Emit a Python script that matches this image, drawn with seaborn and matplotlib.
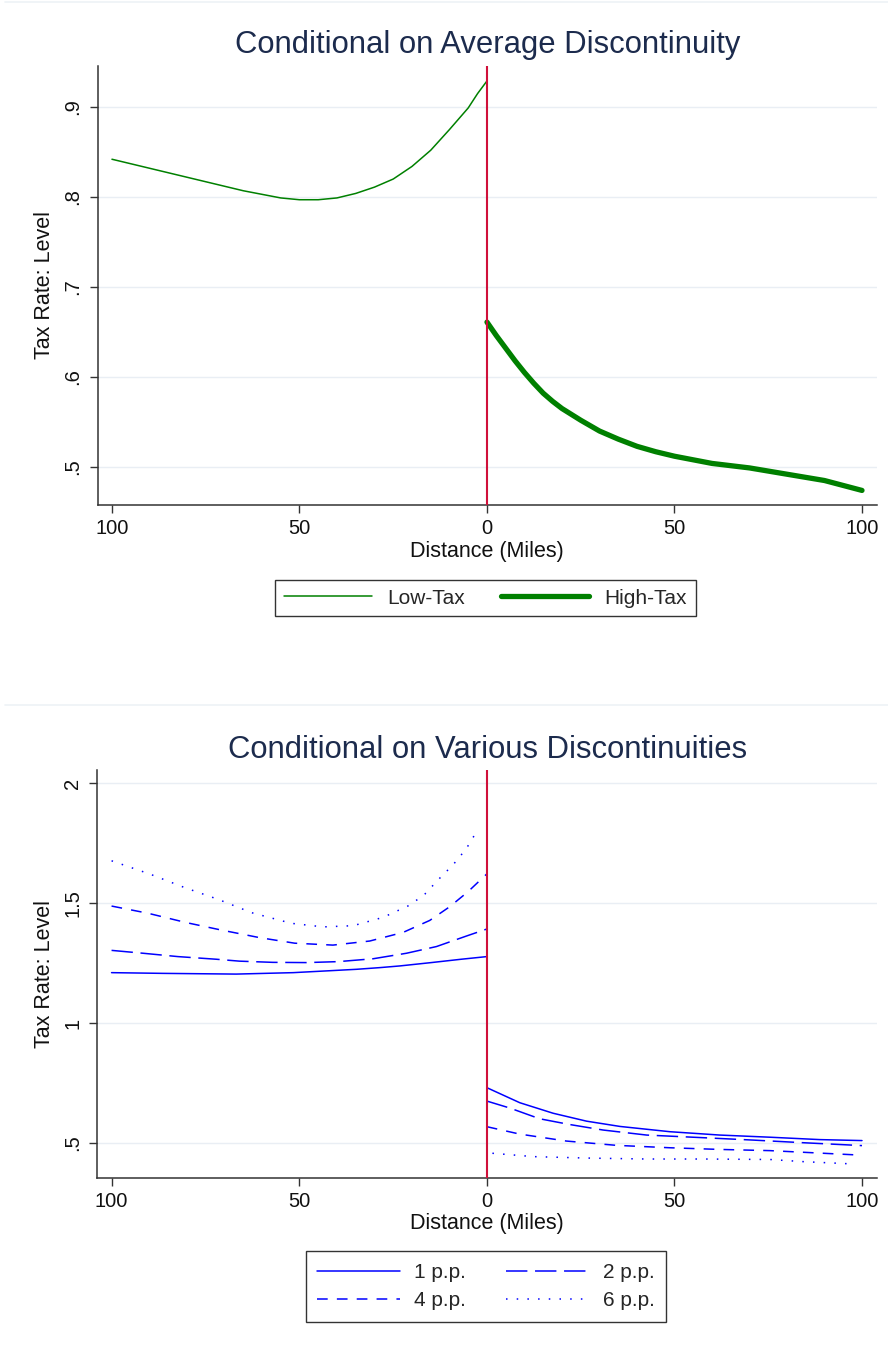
import numpy as np
import pandas as pd
import matplotlib
matplotlib.use("Agg")
import matplotlib.pyplot as plt
import seaborn as sns
from matplotlib.lines import Line2D

# ---------------- data ----------------
low_x = [-100, -95, -90, -85, -80, -75, -70, -65, -60, -55, -50, -45, -40, -35, -30,
         -25, -20, -15, -10, -5, -2.5, 0]
low_y = [0.842, 0.837, 0.832, 0.827, 0.822, 0.817, 0.812, 0.807, 0.803, 0.799, 0.797,
         0.797, 0.799, 0.804, 0.811, 0.820, 0.834, 0.852, 0.875, 0.899, 0.915, 0.929]

high_x = [0, 2.5, 5, 7.5, 10, 12.5, 15, 17.5, 20, 25, 30, 35, 40, 45, 50, 55, 60, 70, 80, 90, 100]
high_y = [0.661, 0.646, 0.632, 0.618, 0.605, 0.593, 0.582, 0.573, 0.565, 0.552, 0.540,
          0.531, 0.523, 0.517, 0.512, 0.508, 0.504, 0.499, 0.492, 0.485, 0.474]

pp1_left_x = [-100, -86.3, -66.8, -51.6, -41.9, -34.7, -28.5, -23.2, -14.8, -6.8, 0]
pp1_left = [1.210, 1.207, 1.204, 1.210, 1.218, 1.224, 1.231, 1.238, 1.252, 1.266, 1.277]
pp2_left_x = [-100, -91.6, -82.3, -72.1, -65.9, -57, -48.1, -39.6, -30.3, -21.4, -13.4, -5.4, 0]
pp2_left = [1.303, 1.291, 1.277, 1.266, 1.258, 1.253, 1.252, 1.256, 1.268, 1.291, 1.319, 1.363, 1.392]
pp4_left_x = [-100, -90.3, -80.1, -70.8, -60.5, -51.2, -41, -31.2, -22.3, -15.2, -9.9, -5, 0]
pp4_left = [1.488, 1.458, 1.419, 1.388, 1.356, 1.333, 1.325, 1.342, 1.378, 1.428, 1.485, 1.548, 1.622]
pp6_left_x = [-100, -89.7, -80.5, -71.6, -62.6, -52.1, -43.6, -35.6, -27.6, -20.5, -16.5,
              -12.5, -9, -7.2, -5.4, -3.4]
pp6_left = [1.677, 1.621, 1.565, 1.516, 1.460, 1.416, 1.401, 1.406, 1.441, 1.492, 1.538,
            1.605, 1.660, 1.694, 1.729, 1.781]

pp1_right_x = [0, 8.8, 17.7, 26.6, 35.5, 48.8, 62.1, 75.5, 88.8, 100]
pp1_right = [0.730, 0.667, 0.623, 0.590, 0.568, 0.546, 0.532, 0.523, 0.513, 0.509]
pp2_right_x = [0, 6.1, 14.1, 22.1, 31, 42.6, 57.7, 71, 84.4, 100]
pp2_right = [0.674, 0.645, 0.600, 0.576, 0.553, 0.532, 0.521, 0.511, 0.500, 0.488]
pp4_right_x = [0, 8.8, 21.2, 34.6, 48.8, 62.1, 75.5, 89.7, 98.6]
pp4_right = [0.567, 0.536, 0.507, 0.489, 0.479, 0.472, 0.467, 0.456, 0.449]
pp6_right_x = [1.5, 12.4, 26.6, 42.6, 57.7, 75.5, 84.4, 98.1]
pp6_right = [0.456, 0.442, 0.436, 0.432, 0.432, 0.430, 0.421, 0.411]

top_title = "Conditional on Average Discontinuity"
bottom_title = "Conditional on Various Discontinuities"
xlabel = "Distance (Miles)"
ylabel = "Tax Rate: Level"
xticks = [-100, -50, 0, 50, 100]
xticklabels = ["100", "50", "0", "50", "100"]
top_yticks = [0.5, 0.6, 0.7, 0.8, 0.9]
top_yticklabels = [".5", ".6", ".7", ".8", ".9"]
bot_yticks = [0.5, 1.0, 1.5, 2.0]
bot_yticklabels = [".5", "1", "1.5", "2"]

# ---------------- style ----------------
sns.set_theme(style="white")
plt.rcParams["font.family"] = ["Liberation Sans", "DejaVu Sans"]

GREEN = "#008000"
BLUE = "#0000ff"
RED = "#d0103a"
TITLE_C = "#1c2b4d"
GRID_C = "#e9eef4"
SPINE_C = "#333333"

W, H = 888, 1347
fig = plt.figure(figsize=(W / 100, H / 100), dpi=100)
fig.patch.set_facecolor("white")

ax1 = fig.add_axes([97.7 / W, 1 - 505 / H, (877 - 97.7) / W, (505 - 66) / H])
ax2 = fig.add_axes([97.3 / W, 1 - 1177.7 / H, (877 - 97.3) / W, (1177.7 - 770) / H])

# faint region borders
for yy in (2, 705):
    fig.add_artist(Line2D([5 / W, 1.0], [1 - yy / H] * 2, color="#eef2f6", lw=1.2))


def style_axes(ax, yticks, yticklabels, ylim, title):
    ax.set_xlim(-103.8, 104)
    ax.set_ylim(*ylim)
    ax.set_xticks(xticks)
    ax.set_xticklabels(xticklabels)
    ax.set_yticks(yticks)
    ax.set_yticklabels(yticklabels)
    ax.yaxis.grid(True, color=GRID_C, lw=1.0)
    ax.xaxis.grid(False)
    ax.set_axisbelow(True)
    for s in ("top", "right"):
        ax.spines[s].set_visible(False)
    for s in ("left", "bottom"):
        ax.spines[s].set_color(SPINE_C)
        ax.spines[s].set_linewidth(1.1)
    ax.tick_params(axis="both", bottom=True, left=True, direction="out", length=6,
                   width=1.0, color=SPINE_C, labelsize=14.5, labelcolor="#111111")
    ax.tick_params(axis="x", pad=4)
    ax.tick_params(axis="y", pad=5, labelrotation=90)
    for lab in ax.get_yticklabels():
        lab.set_va("center")
    ax.set_xlabel(xlabel, fontsize=15.5, color="#111111", labelpad=2)
    ax.set_ylabel(ylabel, fontsize=15.5, color="#111111", labelpad=6)
    ax.set_title(title, fontsize=22.3, color=TITLE_C, pad=9)
    ax.axvline(0, color=RED, lw=1.5, zorder=3)


# ---------------- top panel ----------------
df_low = pd.DataFrame({"dist": low_x, "rate": low_y})
df_high = pd.DataFrame({"dist": high_x, "rate": high_y})
sns.lineplot(data=df_low, x="dist", y="rate", ax=ax1, color=GREEN, lw=1.1,
             estimator=None, sort=False, label="Low-Tax")
sns.lineplot(data=df_high, x="dist", y="rate", ax=ax1, color=GREEN, lw=3.8,
             estimator=None, sort=False, label="High-Tax")
style_axes(ax1, top_yticks, top_yticklabels, (0.4578, 0.9456), top_title)

h1 = [Line2D([], [], color=GREEN, lw=1.1), Line2D([], [], color=GREEN, lw=3.8)]
leg1 = ax1.legend(h1, ["Low-Tax", "High-Tax"], loc="center",
                  bbox_to_anchor=(485.5 / W, 1 - 598 / H), bbox_transform=fig.transFigure,
                  ncol=2, frameon=True, fancybox=False, edgecolor="black", fontsize=15,
                  handlelength=4.2, handletextpad=0.75, columnspacing=1.75, borderpad=0.42)
leg1.get_frame().set_linewidth(1.0)

# ---------------- bottom panel ----------------
styles = {
    "1 p.p.": "-",
    "2 p.p.": (0, (14, 5)),
    "4 p.p.": (0, (7, 6)),
    "6 p.p.": (0, (1, 6)),
}
series = [
    ("1 p.p.", pp1_left_x, pp1_left, pp1_right_x, pp1_right),
    ("2 p.p.", pp2_left_x, pp2_left, pp2_right_x, pp2_right),
    ("4 p.p.", pp4_left_x, pp4_left, pp4_right_x, pp4_right),
    ("6 p.p.", pp6_left_x, pp6_left, pp6_right_x, pp6_right),
]
for name, lx, ly, rx, ry in series:
    dl = pd.DataFrame({"dist": lx, "rate": ly})
    dr = pd.DataFrame({"dist": rx, "rate": ry})
    sns.lineplot(data=dl, x="dist", y="rate", ax=ax2, color=BLUE, lw=1.1,
                 linestyle=styles[name], estimator=None, sort=False)
    sns.lineplot(data=dr, x="dist", y="rate", ax=ax2, color=BLUE, lw=1.1,
                 linestyle=styles[name], estimator=None, sort=False)
style_axes(ax2, bot_yticks, bot_yticklabels, (0.354, 2.056), bottom_title)

order = ["1 p.p.", "4 p.p.", "2 p.p.", "6 p.p."]
h2 = [Line2D([], [], color=BLUE, lw=1.1, linestyle=styles[n]) for n in order]
leg2 = ax2.legend(h2, order, loc="center",
                  bbox_to_anchor=(486 / W, 1 - 1286.5 / H), bbox_transform=fig.transFigure,
                  ncol=2, frameon=True, fancybox=False, edgecolor="black", fontsize=15,
                  handlelength=4.0, handletextpad=0.67, columnspacing=1.9, borderpad=0.55,
                  labelspacing=0.45)
leg2.get_frame().set_linewidth(1.0)

fig.savefig("out.png", dpi=100, facecolor="white")
